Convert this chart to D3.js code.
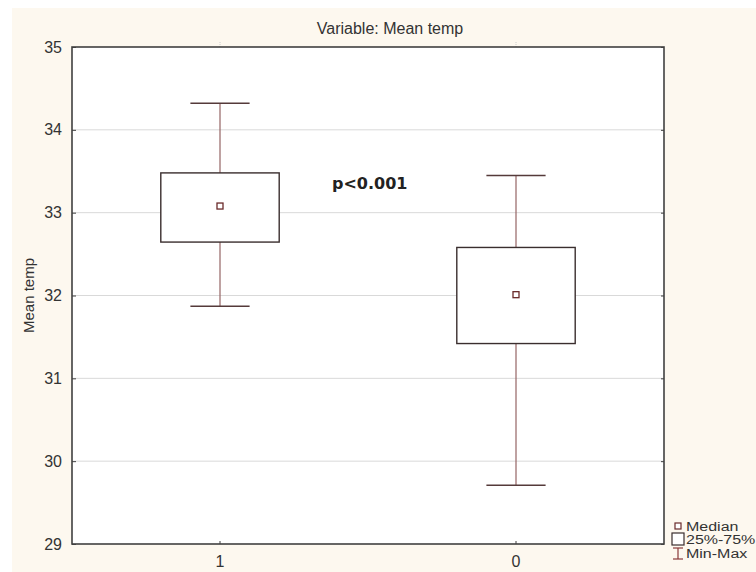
<!DOCTYPE html>
<html>
<head>
<meta charset="utf-8">
<script src="https://cdn.jsdelivr.net/npm/d3@7"></script>
<style>
  html, body { margin: 0; padding: 0; background: #ffffff; }
  svg { display: block; }
</style>
</head>
<body>
<script>
const categories = ["1", "0"];
const minVals    = [31.87, 29.71];
const q1Vals     = [32.645, 31.42];
const medianVals = [33.08, 32.01];
const q3Vals     = [33.48, 32.58];
const maxVals    = [34.32, 33.45];
const yTicks     = [29, 30, 31, 32, 33, 34, 35];
const titleText  = "Variable: Mean temp";
const yLabel     = "Mean temp";
const annotation = "p<0.001";
const legendLabels = ["Median", "25%-75%", "Min-Max"];

const W = 756, H = 572;
const plot = { left: 72, right: 664, top: 47, bottom: 544 };

const svg = d3.select("body").append("svg").attr("width", W).attr("height", H);

// backgrounds
svg.append("rect").attr("x", 0).attr("y", 0).attr("width", W).attr("height", H).attr("fill", "#ffffff");
svg.append("rect").attr("x", 12).attr("y", 8).attr("width", W - 12).attr("height", H - 8).attr("fill", "#fdf8ef");
svg.append("rect").attr("x", plot.left).attr("y", plot.top)
  .attr("width", plot.right - plot.left).attr("height", plot.bottom - plot.top).attr("fill", "#ffffff");

const x = d3.scaleBand().domain(categories).range([plot.left, plot.right]);
const y = d3.scaleLinear().domain([29, 35]).range([plot.bottom, plot.top]);

// gridlines
svg.append("g").selectAll("line").data(yTicks.filter(t => t > 29 && t < 35)).join("line")
  .attr("x1", plot.left).attr("x2", plot.right)
  .attr("y1", d => y(d)).attr("y2", d => y(d))
  .attr("stroke", "#d9d9d9").attr("stroke-width", 1);

// axes
const axisFont = "'Liberation Sans', Arial, sans-serif";
const yAxis = svg.append("g").attr("transform", `translate(${plot.left},0)`)
  .call(d3.axisLeft(y).tickValues(yTicks).tickSize(-4).tickPadding(10).tickFormat(d3.format("d")));
yAxis.select(".domain").remove();
yAxis.selectAll(".tick line").attr("stroke", "#404040");
yAxis.selectAll(".tick text").attr("font-family", axisFont).attr("font-size", 16).attr("fill", "#333");

const yAxisR = svg.append("g").attr("transform", `translate(${plot.right},0)`)
  .call(d3.axisLeft(y).tickValues(yTicks).tickSize(3).tickFormat(""));
yAxisR.select(".domain").remove();
yAxisR.selectAll(".tick line").attr("stroke", "#404040");

const xAxis = svg.append("g").attr("transform", `translate(0,${plot.bottom})`)
  .call(d3.axisTop(x).tickSize(3).tickFormat(""));
xAxis.select(".domain").remove();
xAxis.selectAll(".tick line").attr("stroke", "#404040");

const xLabels = svg.append("g").attr("transform", `translate(0,${plot.bottom})`)
  .call(d3.axisBottom(x).tickSize(0).tickPadding(12));
xLabels.select(".domain").remove();
xLabels.selectAll(".tick text").attr("font-family", axisFont).attr("font-size", 16).attr("fill", "#333");

const xAxisTop = svg.append("g").attr("transform", `translate(0,${plot.top})`)
  .call(d3.axisTop(x).tickSize(6).tickFormat(""));
xAxisTop.select(".domain").remove();
xAxisTop.selectAll(".tick line").attr("stroke", "#cccccc").attr("stroke-dasharray", "1,1");

// frame
svg.append("rect").attr("x", plot.left).attr("y", plot.top)
  .attr("width", plot.right - plot.left).attr("height", plot.bottom - plot.top)
  .attr("fill", "none").attr("stroke", "#404040").attr("stroke-width", 1.6);

// boxes
const bw = x.bandwidth();
const boxW = bw * 0.4, capW = bw * 0.2;
const data = categories.map((c, i) => ({
  c, min: minVals[i], q1: q1Vals[i], med: medianVals[i], q3: q3Vals[i], max: maxVals[i]
}));
const g = svg.append("g");
data.forEach(d => {
  const cx = x(d.c) + bw / 2;
  g.append("line").attr("x1", cx).attr("x2", cx).attr("y1", y(d.max)).attr("y2", y(d.q3))
    .attr("stroke", "#946464").attr("stroke-width", 1.2);
  g.append("line").attr("x1", cx).attr("x2", cx).attr("y1", y(d.q1)).attr("y2", y(d.min))
    .attr("stroke", "#946464").attr("stroke-width", 1.2);
  g.append("line").attr("x1", cx - capW / 2).attr("x2", cx + capW / 2).attr("y1", y(d.max)).attr("y2", y(d.max))
    .attr("stroke", "#553a3a").attr("stroke-width", 1.5);
  g.append("line").attr("x1", cx - capW / 2).attr("x2", cx + capW / 2).attr("y1", y(d.min)).attr("y2", y(d.min))
    .attr("stroke", "#553a3a").attr("stroke-width", 1.5);
  g.append("rect").attr("x", cx - boxW / 2).attr("y", y(d.q3))
    .attr("width", boxW).attr("height", y(d.q1) - y(d.q3))
    .attr("fill", "#ffffff").attr("stroke", "#3a2e2e").attr("stroke-width", 1.4);
  g.append("rect").attr("x", cx - 3).attr("y", y(d.med) - 3).attr("width", 6).attr("height", 6)
    .attr("fill", "#ffffff").attr("stroke", "#6a2a2a").attr("stroke-width", 1.3);
});

// title
svg.append("text").attr("x", 390).attr("y", 34).attr("text-anchor", "middle")
  .attr("font-family", axisFont).attr("font-size", 16).attr("fill", "#333").text(titleText);

// y label
svg.append("text").attr("transform", `translate(34,${(plot.top + plot.bottom) / 2}) rotate(-90)`)
  .attr("text-anchor", "middle").attr("font-family", axisFont).attr("font-size", 15).attr("fill", "#333")
  .text(yLabel);

// annotation
svg.append("text").attr("x", 332).attr("y", 189)
  .attr("font-family", "'DejaVu Sans', sans-serif").attr("font-weight", "bold")
  .attr("font-size", 16).attr("fill", "#222").text(annotation);

// legend
const lg = svg.append("g");
const lx = 678;
lg.append("rect").attr("x", lx - 3).attr("y", 523).attr("width", 6).attr("height", 6)
  .attr("fill", "#fff").attr("stroke", "#6a2a2a").attr("stroke-width", 1.2);
lg.append("rect").attr("x", lx - 6).attr("y", 533).attr("width", 12).attr("height", 12)
  .attr("fill", "#fff").attr("stroke", "#3a2e2e").attr("stroke-width", 1.2);
lg.append("line").attr("x1", lx - 5).attr("x2", lx + 5).attr("y1", 548).attr("y2", 548).attr("stroke", "#8a3a3a").attr("stroke-width", 1.2);
lg.append("line").attr("x1", lx).attr("x2", lx).attr("y1", 548).attr("y2", 559).attr("stroke", "#8a3a3a").attr("stroke-width", 1.2);
lg.append("line").attr("x1", lx - 5).attr("x2", lx + 5).attr("y1", 559).attr("y2", 559).attr("stroke", "#8a3a3a").attr("stroke-width", 1.2);
[530.5, 544, 557.5].forEach((yy, i) => {
  lg.append("g").attr("transform", `translate(686,${yy}) scale(1.28,1)`)
    .append("text").attr("x", 0).attr("y", 0).attr("font-family", axisFont).attr("font-size", 12.5)
    .attr("fill", "#333").text(legendLabels[i]);
});
</script>
</body>
</html>
